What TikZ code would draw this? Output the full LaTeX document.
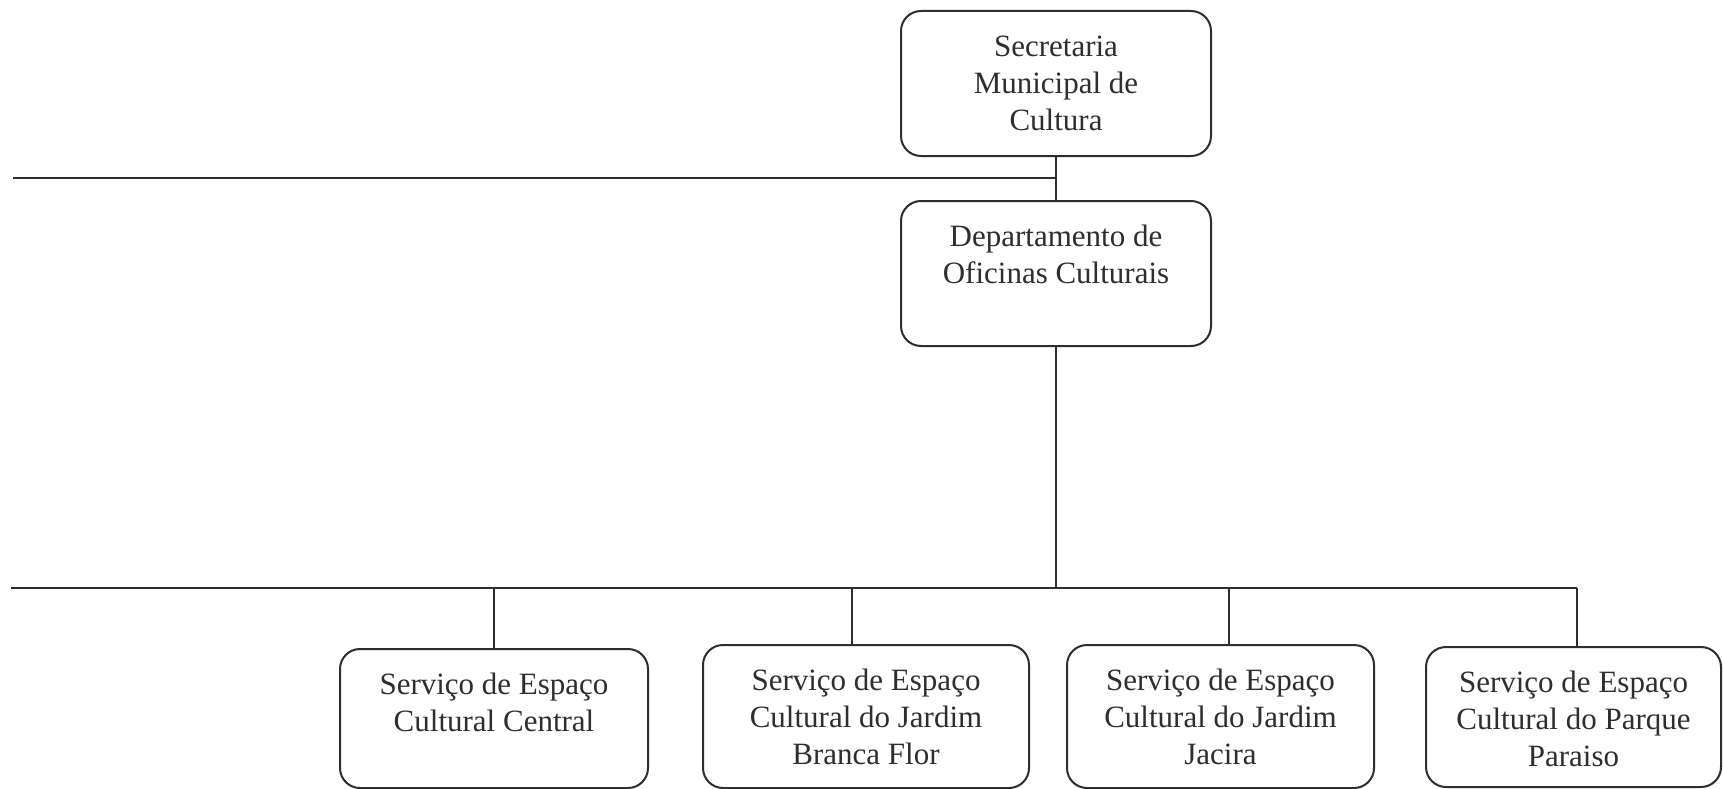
\documentclass[tikz,border=0pt]{standalone}
\usepackage{fontspec}
\setmainfont{Liberation Serif}
\definecolor{ink}{HTML}{2E2E2E}
\tikzset{
  x=1pt, y=-1pt,
  orgbox/.style={draw=ink, line width=2pt, rounded corners=20pt, inner sep=0pt, text=ink, anchor=north west},
  conn/.style={draw=ink, line width=2pt}
}
\newcommand{\boxtop}[3]{\begin{minipage}[c][#2pt][t]{#1pt}\centering\fontsize{31}{37}\selectfont\vspace*{24pt}#3\end{minipage}}
\newcommand{\boxmid}[3]{\begin{minipage}[c][#2pt][c]{#1pt}\centering\fontsize{31}{37}\selectfont #3\end{minipage}}
\begin{document}
\begin{tikzpicture}
\useasboundingbox (0,0) rectangle (1723,789);
\fill[white] (0,0) rectangle (1723,789);
\node[orgbox] (sec) at (900,10) {\boxmid{310}{145}{Secretaria\\Municipal de\\Cultura}};
\node[orgbox] (dept) at (900,200) {\boxtop{310}{145}{Departamento de\\Oficinas Culturais}};
\node[orgbox] (s1) at (339,648) {\boxtop{308}{139}{Serviço de Espaço\\Cultural Central}};
\node[orgbox] (s2) at (702,644) {\boxtop{326}{143}{Serviço de Espaço\\Cultural do Jardim\\Branca Flor}};
\node[orgbox] (s3) at (1066,644) {\boxtop{307}{143}{Serviço de Espaço\\Cultural do Jardim\\Jacira}};
\node[orgbox] (s4) at (1425,646) {\boxtop{295}{140}{Serviço de Espaço\\Cultural do Parque\\Paraiso}};
\coordinate (tl) at (13,178);
\coordinate (bl) at (11,588);
\coordinate (d1) at (494,588);
\coordinate (d2) at (852,588);
\coordinate (d3) at (1229,588);
\coordinate (d4) at (1577,588);
\draw[conn] (sec.south) -- (dept.north);
\draw[conn] (tl) -- (tl -| sec.south);
\draw[conn] (dept.south) -- (dept.south |- bl);
\draw[conn] (bl) -- (d4);
\draw[conn] (d1) -- (d1 |- s1.north);
\draw[conn] (d2) -- (d2 |- s2.north);
\draw[conn] (d3) -- (d3 |- s3.north);
\draw[conn] (d4) -- (d4 |- s4.north);
\end{tikzpicture}
\end{document}
